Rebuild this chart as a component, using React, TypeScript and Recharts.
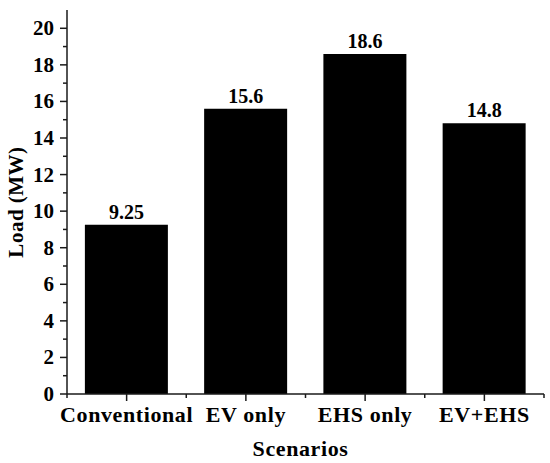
import React from 'react';
import { BarChart, Bar, XAxis, YAxis, LabelList } from 'recharts';

const scenarios = ['Conventional', 'EV only', 'EHS only', 'EV+EHS'];
const loads = [9.25, 15.6, 18.6, 14.8];
const loadLabels = ['9.25', '15.6', '18.6', '14.8'];
const yTicks = [0, 1, 2, 3, 4, 5, 6, 7, 8, 9, 10, 11, 12, 13, 14, 15, 16, 17, 18, 19, 20];

const data = scenarios.map((name, i) => ({ name, load: loads[i], label: loadLabels[i] }));

const FONT = '"Liberation Serif", "Times New Roman", serif';
const INK = '#1a1a1a';
const W = 550;
const H = 463;
const PLOT_LEFT = 67;
const PLOT_RIGHT = 6;
const MAJOR = 7;
const MINOR = 4;
const TICK_MARGIN = 2;
const BAND = (W - PLOT_LEFT - PLOT_RIGHT) / scenarios.length;

function YTick(props: any) {
  const { x, y, payload } = props;
  const axisX = x + MAJOR + TICK_MARGIN;
  const major = payload.value % 2 === 0;
  return (
    <g>
      <line x1={axisX} x2={axisX - (major ? MAJOR : MINOR)} y1={y} y2={y} stroke={INK} strokeWidth={1.5} />
      {major && (
        <text x={x - 4} y={y} dy={7} textAnchor="end" fontFamily={FONT} fontWeight="bold" fontSize={21} fill="#000">
          {payload.value}
        </text>
      )}
    </g>
  );
}

function XTick(props: any) {
  const { x, y, payload, index } = props;
  const axisY = y - MAJOR - TICK_MARGIN;
  const last = index === scenarios.length - 1;
  return (
    <g>
      <line x1={x} x2={x} y1={axisY} y2={axisY + MAJOR} stroke={INK} strokeWidth={1.5} />
      <line x1={x - BAND / 2} x2={x - BAND / 2} y1={axisY} y2={axisY + MINOR} stroke={INK} strokeWidth={1.5} />
      {last && <line x1={x + BAND / 2} x2={x + BAND / 2} y1={axisY} y2={axisY + MINOR} stroke={INK} strokeWidth={1.5} />}
      <text x={x} y={axisY + 28} textAnchor="middle" fontFamily={FONT} fontWeight="bold" fontSize={22} letterSpacing={0.6} fill="#000">
        {payload.value}
      </text>
    </g>
  );
}

export default function App() {
  return (
    <div style={{ position: 'absolute', left: 0, top: 0, width: W, height: H, background: '#fff' }}>
      <BarChart
        width={W}
        height={H}
        data={data}
        margin={{ top: 10, right: PLOT_RIGHT, left: 0, bottom: 0 }}
        barCategoryGap="15%"
      >
        <XAxis
          dataKey="name"
          height={69}
          tickLine={false}
          tickSize={MAJOR}
          tickMargin={TICK_MARGIN}
          axisLine={{ stroke: INK, strokeWidth: 1.5 }}
          tick={<XTick />}
          interval={0}
          label={{ value: 'Scenarios', position: 'insideBottom', offset: 7, dx: -5, fontFamily: FONT, fontWeight: 'bold', fontSize: 22, letterSpacing: 0.6, fill: '#000' }}
        />
        <YAxis
          width={PLOT_LEFT}
          domain={[0, 21]}
          ticks={yTicks}
          interval={0}
          tickLine={false}
          tickSize={MAJOR}
          tickMargin={TICK_MARGIN}
          axisLine={{ stroke: INK, strokeWidth: 1.5 }}
          tick={<YTick />}
          label={{ value: 'Load (MW)', angle: -90, position: 'insideLeft', offset: 16, fontFamily: FONT, fontWeight: 'bold', fontSize: 21, letterSpacing: 0.5, fill: '#000', style: { textAnchor: 'middle' } }}
        />
        <Bar dataKey="load" fill="#000" isAnimationActive={false}>
          <LabelList dataKey="label" position="top" offset={6} fontFamily={FONT} fontWeight="bold" fontSize={20} fill="#000" />
        </Bar>
      </BarChart>
    </div>
  );
}
